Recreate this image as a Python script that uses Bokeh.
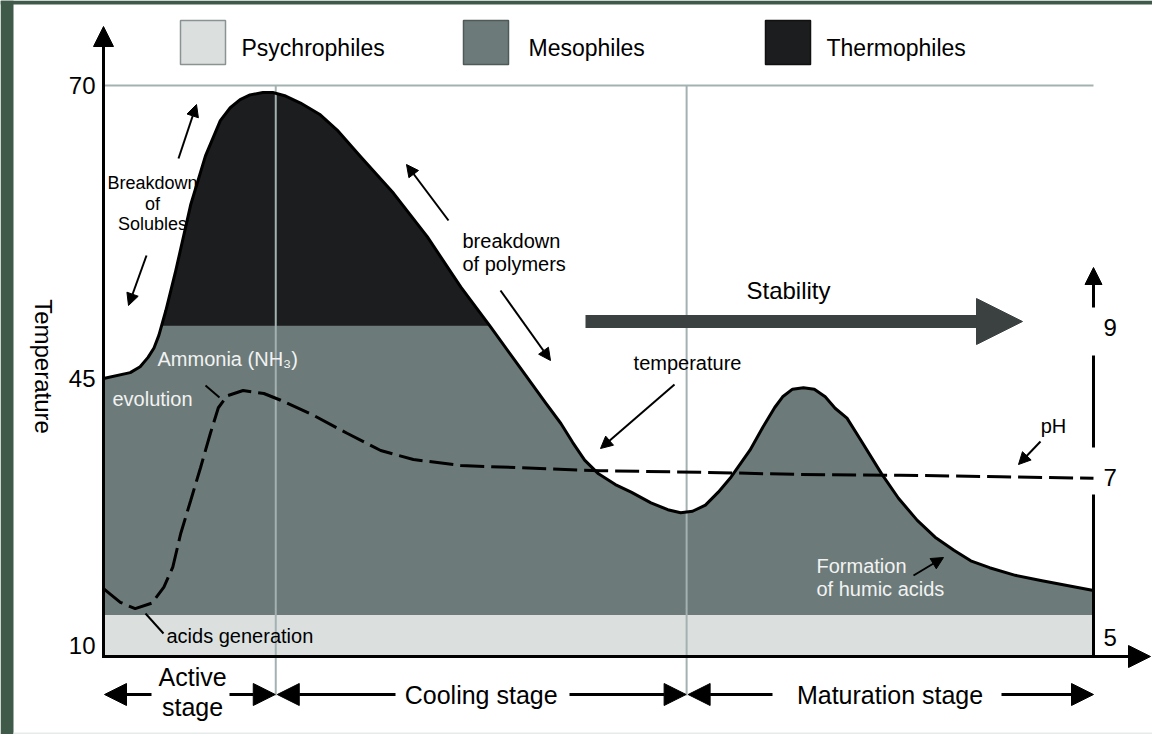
import math
import numpy as np
from bokeh.plotting import figure
from bokeh.models import Range1d, Arrow, NormalHead
from bokeh.core.properties import value
from bokeh.embed import file_html
from bokeh.resources import INLINE

# ---------------- data ----------------
# composting time (arbitrary units, 0 = start, 100 = end of maturation)
time_temp = [0.0, 2.7, 3.7, 4.5, 5.1, 5.6, 6.3, 7.3, 8.8, 10.3,
             11.8, 12.8, 13.8, 14.8, 16.1, 17.1, 18.4, 19.9, 21.9, 23.6,
             26.0, 29.3, 32.7, 36.1, 39.1, 42.1, 44.6, 46.2, 47.4, 48.6,
             50.0, 51.7, 53.3, 55.3, 57.0, 58.3, 59.5, 60.8, 62.1, 63.4,
             65.3, 66.6, 67.8, 68.6, 69.6, 70.7, 71.8, 72.9, 73.9, 75.1,
             76.5, 78.6, 80.3, 82.2, 84.0, 85.9, 87.6, 89.5, 92.1, 94.8,
             97.2, 100.0]
temperature = [45.0, 45.5, 46.0, 46.8, 47.6, 48.7, 50.8, 54.2, 59.8, 64.0,
               67.0, 68.1, 68.8, 69.2, 69.4, 69.4, 69.1, 68.5, 67.5, 66.2,
               63.9, 60.8, 57.1, 52.8, 49.4, 45.9, 41.9, 39.1, 36.6, 34.3,
               32.5, 31.1, 30.1, 28.7, 27.8, 27.4, 27.6, 28.4, 30.1, 32.1,
               35.6, 38.6, 41.2, 42.6, 43.6, 43.8, 43.6, 42.6, 41.1, 39.8,
               36.9, 32.5, 29.3, 26.4, 24.2, 22.5, 21.1, 20.2, 19.2, 18.5,
               17.9, 17.2]

ph_time = [0.0, 1.7, 3.2, 4.9, 6.1, 7.0, 7.8, 8.8, 9.8, 10.8,
           11.6, 12.5, 14.1, 16.2, 17.9, 21.2, 24.6, 28.0, 31.3, 36.1,
           42.1, 50.2, 60.3, 70.4, 80.5, 90.6, 100.0]
ph_values = [5.61, 5.44, 5.36, 5.43, 5.63, 5.88, 6.30, 6.71, 7.13, 7.59,
             7.93, 8.09, 8.16, 8.12, 8.03, 7.83, 7.59, 7.36, 7.24, 7.16,
             7.13, 7.09, 7.07, 7.04, 7.03, 7.01, 6.99]

temp_ticks = [10, 45, 70]
ph_ticks = [5, 7, 9]
stage_names = ["Active\nstage", "Cooling stage", "Maturation stage"]
stage_bounds = [0.0, 17.4, 58.9, 100.0]
group_names = ["Psychrophiles", "Mesophiles", "Thermophiles"]
psychro_top = 14.0   # upper limit of psychrophile zone (deg C)
meso_top = 49.5      # upper limit of mesophile zone (deg C)

# ---------------- styling ----------------
PSY = "#dbe0df"
MESO = "#6c7b79"
THERMO = "#1c1d1e"
GRID = "#a3b2b1"
ARROW_DARK = "#3a4140"
GREEN = "#3f5a48"
FONT = "Liberation Sans"


# axis calibrations (the drawn axes of the original are not linear)
def temp_h(T):
    return np.interp(T, [-100, 10, 45, 70, 200], [-828.14, 11.0, 278.0, 571.0, 2094.6])


def ph_h(v):
    return np.interp(v, [3, 5, 7, 9, 11], [-141.0, 19.0, 179.0, 329.0, 479.0])


# helpers to place annotations by page pixel
def X(px):
    return (px - 103) / 9.9


def Y(py):
    return 656 - py


def split_at(xs, ys, level):
    ox, oy = [xs[0]], [ys[0]]
    for i in range(1, len(xs)):
        y0, y1 = ys[i - 1], ys[i]
        if (y0 - level) * (y1 - level) < 0:
            f = (level - y0) / (y1 - y0)
            ox.append(xs[i - 1] + f * (xs[i] - xs[i - 1]))
            oy.append(level)
        ox.append(xs[i])
        oy.append(ys[i])
    return np.array(ox), np.array(oy)


W, H = 1152, 734
p = figure(width=W, height=H, x_range=Range1d(X(0), X(W)), y_range=Range1d(Y(H), Y(0)),
           output_backend="svg", toolbar_location=None,
           x_axis_location=None, y_axis_location=None,
           min_border=0, min_border_left=0, min_border_right=0,
           min_border_top=0, min_border_bottom=0,
           background_fill_color="white", border_fill_color="white", outline_line_color=None)
p.grid.visible = False

# dark green frame (left and top) around the panel, faint line at the bottom
p.quad(left=[X(0), X(0)], right=[X(13), X(W)],
       bottom=[Y(H), Y(4)], top=[Y(0), Y(0)],
       fill_color=GREEN, line_color=None)
p.quad(left=[X(13)], right=[X(W)], bottom=[Y(734)], top=[Y(732)],
       fill_color="#e6ebe9", line_color=None)

# ---------------- fills ----------------
t_arr = np.array(time_temp)
h_curve = temp_h(np.array(temperature))
level_h = float(temp_h(meso_top))
psy_h = float(temp_h(psychro_top))
tx, th = split_at(t_arr, h_curve, level_h)

p.varea(x=tx, y1=0, y2=th, fill_color=MESO)
p.varea(x=[time_temp[0], time_temp[-1]], y1=0, y2=psy_h, fill_color=PSY)
p.varea(x=tx, y1=level_h, y2=np.maximum(th, level_h), fill_color=THERMO)

# grey reference lines
t70 = float(temp_h(70))
p.line(x=[stage_bounds[0], stage_bounds[-1]], y=[t70, t70], line_color=GRID, line_width=2)
for b in stage_bounds[1:-1]:
    p.line(x=[b, b], y=[Y(695), t70], line_color=GRID, line_width=2)

# temperature curve and pH curve
p.line(x=t_arr, y=h_curve, line_color="black", line_width=3, line_join="round")
p.line(x=ph_time, y=ph_h(np.array(ph_values)), line_color="black", line_width=3,
       line_dash="24 7")


# ---------------- arrows ----------------
def arrow(x0, y0, x1, y1, size=12, lw=2, color="black", head=True):
    end = NormalHead(size=size, fill_color=color, line_color=color, line_width=1) if head else None
    p.add_layout(Arrow(x_start=X(x0), y_start=Y(y0), x_end=X(x1), y_end=Y(y1),
                       line_width=lw, line_color=color, end=end))


# axes (drawn as arrows)
arrow(103, 657.5, 103, 26, size=20, lw=3)
arrow(101.5, 656, 1150, 656, size=22, lw=3)
arrow(1093, 657.5, 1093, 494, lw=3, head=False)
arrow(1093, 447, 1093, 355, lw=3, head=False)
arrow(1093, 307, 1093, 267, size=17, lw=3)

# tick labels
p.text(x=[X(95)] * 3, y=[float(temp_h(t)) for t in temp_ticks], text=[str(t) for t in temp_ticks],
       text_font=value(FONT), text_font_size=value("24px"), text_color="black",
       text_align="right", text_baseline="middle")
p.text(x=[X(1103)] * 3, y=[float(ph_h(v)) for v in ph_ticks], text=[str(v) for v in ph_ticks],
       text_font=value(FONT), text_font_size=value("24px"), text_color="black",
       text_align="left", text_baseline="middle")
p.text(x=[X(43)], y=[Y(366)], text=["Temperature"], angle=-math.pi / 2,
       text_font=value(FONT), text_font_size=value("24px"), text_color="black",
       text_align="center", text_baseline="middle")

# small annotation arrows
arrow(178, 158, 196, 104)
arrow(146, 255, 128, 305)
arrow(448, 220, 406, 164)
arrow(500, 290, 550, 360)
arrow(674, 384, 600, 448)
arrow(1040, 441, 1018, 464)
arrow(913, 575, 943, 557)

# leader lines
p.segment(x0=[X(205), X(145)], y0=[Y(385), Y(613)], x1=[X(219), X(163)], y1=[Y(397), Y(633)],
          line_color="black", line_width=2)

# stability arrow
arrow(585, 321, 1022, 321, size=46, lw=13, color=ARROW_DARK)

# stage arrows
bpx = [103 + 9.9 * b for b in stage_bounds]
arrow(151, 694, bpx[0] + 1, 694, size=22, lw=3)
arrow(229, 694, bpx[1] - 0.5, 694, size=22, lw=3)
arrow(395, 694, bpx[1] + 1.5, 694, size=22, lw=3)
arrow(569, 694, bpx[2] - 0.5, 694, size=22, lw=3)
arrow(772, 694, bpx[2] + 1.5, 694, size=22, lw=3)
arrow(1001, 694, bpx[3], 694, size=22, lw=3)

# ---------------- legend ----------------
box_left = [180, 463, 765]
box_colors = [PSY, MESO, THERMO]
box_lines = ["#8a9292", "#4f5a58", "#111111"]
p.quad(left=[X(b) for b in box_left], right=[X(b + 45) for b in box_left],
       top=[Y(20)] * 3, bottom=[Y(64)] * 3, fill_color=box_colors,
       line_color=box_lines, line_width=1.5)
p.text(x=[X(241), X(528), X(826)], y=[Y(47)] * 3, text=group_names,
       text_font=value(FONT), text_font_size=value("23px"), text_color="black",
       text_align="left", text_baseline="middle")

# ---------------- texts ----------------
p.text(x=[X(152)] * 3, y=[Y(182), Y(203), Y(223)], text=["Breakdown", "of", "Solubles"],
       text_font=value(FONT), text_font_size=value("18px"), text_color="black",
       text_align="center", text_baseline="middle")
p.text(x=[X(462), X(462), X(166)], y=[Y(240), Y(263), Y(635)],
       text=["breakdown", "of polymers", "acids generation"],
       text_font=value(FONT), text_font_size=value("20px"), text_color="black",
       text_align="left", text_baseline="middle")
p.text(x=[X(687), X(1053)], y=[Y(362), Y(425)], text=["temperature", "pH"],
       text_font=value(FONT), text_font_size=value("20px"), text_color="black",
       text_align="center", text_baseline="middle")
p.text(x=[X(157), X(112), X(816), X(816)], y=[Y(358), Y(398), Y(565), Y(588)],
       text=["Ammonia (NH\u2083)", "evolution", "Formation", "of humic acids"],
       text_font=value(FONT), text_font_size=value("20px"), text_color="#f2f2f2",
       text_align="left", text_baseline="middle")
p.text(x=[X(788)], y=[Y(290)], text=["Stability"],
       text_font=value(FONT), text_font_size=value("24px"), text_color="black",
       text_align="center", text_baseline="middle")

# stage labels
stage_x = [(stage_bounds[i] + stage_bounds[i + 1]) / 2 for i in range(3)]
act = stage_names[0].split("\n")
p.text(x=[stage_x[0] + 0.3, stage_x[0] + 0.3, stage_x[1], stage_x[2]],
       y=[Y(676), Y(706), Y(694), Y(694)],
       text=[act[0], act[1], stage_names[1], stage_names[2]],
       text_font=value(FONT), text_font_size=value("25px"), text_color="black",
       text_align="center", text_baseline="middle")

open("out.html", "w").write(file_html(p, INLINE))
